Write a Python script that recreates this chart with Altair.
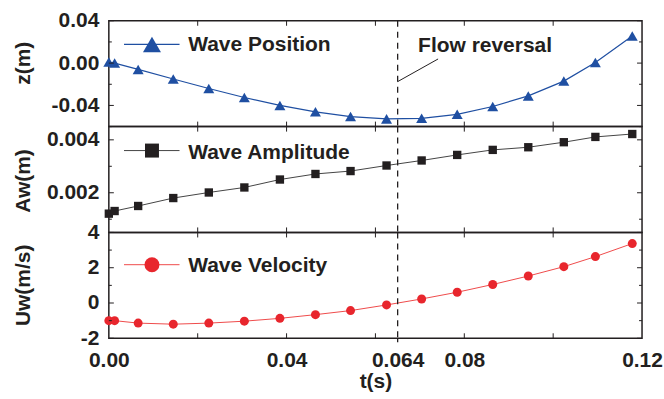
import altair as alt
import pandas as pd

FONT = "Liberation Sans"
INK = "#231f20"
BLUE = "#1f4fa2"
RED = "#e8262d"
BLACK = "#231f20"

# ---- data ----
t = [0.0, 0.0013, 0.0066, 0.0145, 0.0225, 0.0305, 0.0385, 0.0465, 0.0544,
     0.0625, 0.0704, 0.0784, 0.0864, 0.0944, 0.1024, 0.1095, 0.1178]
z = [0.001, 0.0, -0.006, -0.015, -0.024, -0.0325, -0.040, -0.046, -0.0505,
     -0.0527, -0.0522, -0.0484, -0.041, -0.031, -0.017, 0.0005, 0.0256]
aw = [0.00121, 0.00131, 0.0015, 0.0018, 0.00201, 0.0022, 0.0025, 0.00271, 0.00282,
      0.00303, 0.00322, 0.00343, 0.00362, 0.00372, 0.00391, 0.00411, 0.00422]
uw = [-1.0, -1.0, -1.14, -1.2, -1.14, -1.03, -0.87, -0.66, -0.43,
      -0.11, 0.23, 0.61, 1.05, 1.53, 2.06, 2.63, 3.37]

series_names = ["Wave Position", "Wave Amplitude", "Wave Velocity"]
y_titles = ["z(m)", "Aw(m)", "Uw(m/s)"]

reversal_t = [0.065]
reversal_text = ["Flow reversal"]

x_label_values = [0.0, 0.04, 0.065, 0.08, 0.12]
x_label_texts = ["0.00", "0.04", "0.064", "0.08", "0.12"]
x_minor = [0.02, 0.04, 0.06, 0.08, 0.10]

z_domain = [-0.06, 0.04]
z_major = [-0.04, 0.0, 0.04]
z_minor = [-0.06, -0.02, 0.02]
aw_domain = [0.0005, 0.0045]
aw_major = [0.002, 0.004]
aw_minor = [0.001, 0.003]
uw_domain = [-2, 4]
uw_major = [-2, 0, 2, 4]
uw_minor = [-1, 1, 3]

W, H = 534, 106


def label_expr_map(values, texts):
    expr = "''"
    for v, s in reversed(list(zip(values, texts))):
        expr = f"abs(datum.value - {v}) < 1e-9 ? '{s}' : ({expr})"
    return expr


def signed_fmt(spec):
    return (f"datum.value < 0 ? '-' + format(-datum.value, '{spec}') "
            f": format(datum.value, '{spec}')")


def x_enc(show):
    if show:
        ax = alt.Axis(values=x_label_values,
                      labelExpr=label_expr_map(x_label_values, x_label_texts),
                      title="t(s)", domain=False, ticks=False, tickSize=0,
                      labelPadding=11, labelFlush=False, labelOverlap=False,
                      grid=False, titleY=43, titleBaseline="middle")
        return alt.X("t:Q", scale=alt.Scale(domain=[0, 0.12], nice=False, zero=False), axis=ax)
    return alt.X("t:Q", scale=alt.Scale(domain=[0, 0.12], nice=False, zero=False), axis=None)


def panel(vals, domain, major, minor, spec, title, title_y, color, line_color,
          line_w, shape, size, leg_size, name, leg_y, text_y, show_x, extra=()):
    xe = x_enc(show_x)
    ye = alt.Y("v:Q", scale=alt.Scale(domain=domain, nice=False, zero=False),
               axis=alt.Axis(values=major, labelExpr=signed_fmt(spec), title=title,
                             domain=False, ticks=False, tickSize=0, labelPadding=10,
                             grid=False, titleX=-85, titleY=title_y, titleAngle=270,
                             titleAlign="center", titleBaseline="middle",
                             labelOverlap=False))
    df = pd.DataFrame({"t": t, "v": vals})
    dmaj = pd.DataFrame({"v": major})
    dmin = pd.DataFrame({"v": minor})
    dx = pd.DataFrame({"t": x_minor})
    drev = pd.DataFrame({"t": reversal_t})
    one = pd.DataFrame({"name": [name]})

    layers = [
        alt.Chart(df).mark_line(color=line_color, strokeWidth=line_w).encode(x=xe, y=ye),
        alt.Chart(df).mark_point(shape=shape, filled=True, size=size, color=color,
                                 opacity=1, strokeWidth=0).encode(x=xe, y=ye),
        alt.Chart(dmaj).mark_rule(color=INK, strokeWidth=1).encode(
            y=ye, x=alt.value(0), x2=alt.value(5)),
        alt.Chart(dmin).mark_rule(color=INK, strokeWidth=1).encode(
            y=ye, x=alt.value(0), x2=alt.value(3)),
        alt.Chart(dmaj).mark_rule(color=INK, strokeWidth=1).encode(
            y=ye, x=alt.value(W - 5), x2=alt.value(W)),
        alt.Chart(dmin).mark_rule(color=INK, strokeWidth=1).encode(
            y=ye, x=alt.value(W - 3), x2=alt.value(W)),
        alt.Chart(dx).mark_rule(color=INK, strokeWidth=1).encode(
            x=xe, y=alt.value(0), y2=alt.value(5)),
        alt.Chart(dx).mark_rule(color=INK, strokeWidth=1).encode(
            x=xe, y=alt.value(H - 5), y2=alt.value(H)),
        alt.Chart(drev).mark_rule(color=INK, strokeWidth=1.3, strokeDash=[6, 5]).encode(
            x=xe, y=alt.value(0), y2=alt.value(H)),
        alt.Chart(one).mark_rule(color=line_color, strokeWidth=line_w).encode(
            x=alt.value(15.2), x2=alt.value(70.8), y=alt.value(leg_y)),
        alt.Chart(one).mark_point(shape=shape, filled=True, size=leg_size, color=color,
                                  opacity=1, strokeWidth=0).encode(
            x=alt.value(43.2), y=alt.value(leg_y)),
        alt.Chart(one).mark_text(align="left", baseline="middle", font=FONT, fontSize=21,
                                 fontWeight="bold", color=INK).encode(
            x=alt.value(79.5), y=alt.value(text_y), text="name:N"),
    ]
    layers += [e(xe, ye) for e in extra]
    return alt.layer(*layers).properties(width=W, height=H)


def annotation(xe, ye):
    d = pd.DataFrame({"t": [reversal_t[0]], "t2": [0.0741], "v": [-0.0175], "v2": [0.0039]})
    return alt.Chart(d).mark_rule(color=INK, strokeWidth=1).encode(
        x=xe, x2="t2:Q", y=ye, y2="v2:Q")


def annotation_text(xe, ye):
    d = pd.DataFrame({"t": [0.0696], "v": [0.0158], "label": reversal_text})
    return alt.Chart(d).mark_text(align="left", baseline="middle", font=FONT,
                                  fontSize=21, fontWeight="bold", color=INK).encode(
        x=xe, y=ye, text="label:N")


def out_tick(xe, ye):
    d = pd.DataFrame({"t": reversal_t})
    return alt.Chart(d).mark_rule(color=INK, strokeWidth=1.3).encode(
        x=xe, y=alt.value(H), y2=alt.value(H + 4))


p1 = panel(z, z_domain, z_major, z_minor, ".2f", y_titles[0], 42, BLUE, BLUE, 1.2,
           "triangle-up", 121, 324, series_names[0], 23.7, 24.7, False,
           extra=(annotation, annotation_text))
p2 = panel(aw, aw_domain, aw_major, aw_minor, ".3f", y_titles[1], 54, BLACK, "#444444", 1.0,
           "square", 70, 196, series_names[1], 24, 26, False)
p3 = panel(uw, uw_domain, uw_major, uw_minor, "d", y_titles[2], 52.5, RED, "#ef4b4b", 1.0,
           "circle", 81, 225, series_names[2], 32.3, 33.5, True, extra=(out_tick,))

chart = alt.vconcat(p1, p2, p3, spacing=0, bounds="flush").resolve_scale(
    y="independent"
).properties(
    padding={"left": 12, "top": 8.5, "right": 0, "bottom": 0},
    background="white",
).configure_view(
    stroke=INK, strokeWidth=1.5
).configure_axis(
    labelFont=FONT, labelFontSize=21, labelFontWeight="bold", labelColor=INK,
    titleFont=FONT, titleFontSize=21, titleFontWeight="bold", titleColor=INK,
)

chart.save("out.html", embed_options={"renderer": "svg", "actions": False})
